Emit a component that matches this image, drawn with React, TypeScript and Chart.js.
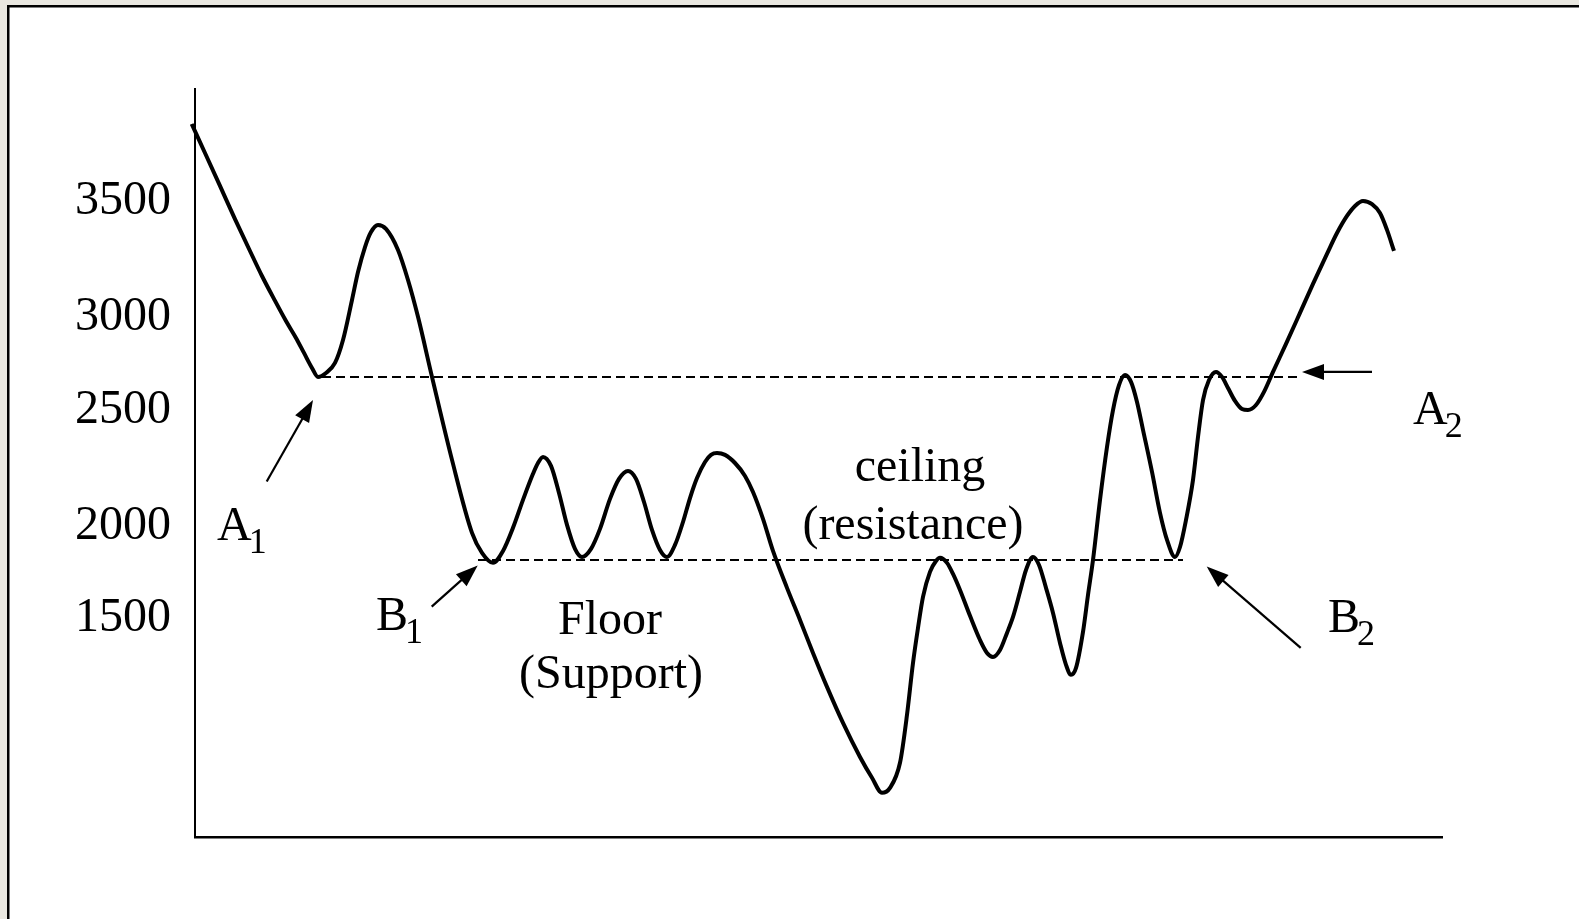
import { useEffect, useRef } from 'react';
import { Chart, registerables } from 'chart.js';

Chart.register(...registerables);

// ---- price path (time units, price units) ----
const timeValues = [
  -0.33, 1.0, 2.5, 4.0, 5.5, 6.7, 7.9, 9.1, 10.1, 10.9, 11.7, 12.3,
  13.1, 14.0, 14.8, 15.7, 16.3, 17.0, 17.6, 18.3,
  19.1, 20.3, 21.3, 22.3, 23.7, 25.7, 27.7, 28.7, 29.8,
  30.8, 31.8, 32.8, 33.8, 34.3, 34.8,
  35.6, 36.4, 37.2, 38.0, 38.7,
  39.6, 40.5, 41.5, 42.4, 43.3,
  44.1, 44.9, 45.7, 46.5, 47.2,
  48.0, 48.8, 49.5, 50.2, 51.0, 51.6, 52.2,
  53.0, 54.0, 55.0, 55.8, 56.8, 57.8, 59.2, 60.5, 61.8, 63.2, 64.8, 66.5, 67.7, 68.7,
  69.5, 70.5, 71.2, 71.8, 72.3, 72.8, 73.5, 74.1, 74.5,
  75.2, 75.8, 76.5, 77.5, 78.5, 79.2, 79.8,
  80.5, 81.2, 81.8, 82.5, 83.1, 83.8,
  84.4, 85.1, 85.8, 86.5, 87.1, 87.6,
  88.1, 88.8, 89.3, 89.8, 90.5, 91.2, 91.8, 92.4, 93.0,
  93.6, 94.2, 94.8, 95.7, 96.5, 97.2, 98.0,
  98.5, 99.1, 99.8, 100.3, 100.8, 101.4, 102.1,
  102.7, 103.3, 104.0, 104.7, 105.3,
  106.1, 106.9, 107.8, 109.1, 110.5, 111.8, 113.2, 114.2, 115.2, 116.0, 116.8,
  117.7, 118.5, 119.2, 119.9,
];
const priceValues = [
  3855, 3716, 3558, 3399, 3246, 3126, 3016, 2910, 2829, 2757, 2685, 2642,
  2661, 2709, 2819, 3011, 3145, 3265, 3337, 3371,
  3352, 3251, 3107, 2930, 2642, 2244, 1894, 1798, 1750,
  1807, 1918, 2052, 2177, 2229, 2258,
  2215, 2085, 1932, 1817, 1778,
  1817, 1913, 2057, 2153, 2191,
  2153, 2042, 1908, 1812, 1778,
  1836, 1946, 2061, 2157, 2234, 2268, 2277,
  2268, 2229, 2167, 2090, 1961, 1807, 1630, 1476, 1318, 1155, 982, 819, 719, 647,
  671, 791, 1021, 1270, 1438, 1587, 1707, 1759, 1774,
  1750, 1697, 1620, 1496, 1380, 1318, 1299,
  1332, 1414, 1491, 1611, 1716, 1778,
  1740, 1630, 1510, 1366, 1261, 1213,
  1246, 1419, 1596, 1764, 2052, 2306, 2483, 2603, 2651,
  2618, 2522, 2388, 2186, 1990, 1860, 1778,
  1826, 1956, 2148, 2354, 2531, 2627, 2666,
  2642, 2589, 2527, 2488, 2483,
  2507, 2570, 2666, 2800, 2949, 3088, 3232, 3332, 3414, 3462, 3486,
  3471, 3428, 3347, 3246,
];

// ---- support / resistance levels ----
const levelAX = [12.7, 110.5];
const levelAPrice = 2642;
const levelBX = [28.3, 98.8];
const levelBPrice = 1764;

// ---- axis ----
const xMin = 0;
const xMax = 124.7;
const yMin = 435;
const yMax = 4023;
const yTickValues = [3500, 2940, 2495, 1940, 1500];
const yTickLabels = ['3500', '3000', '2500', '2000', '1500'];

// ---- text labels (data units) ----
const labelTexts = ['A', 'B', 'A', 'B', 'Floor', '(Support)', 'ceiling', '(resistance)'];
const labelSubs = ['1', '1', '2', '2', '', '', '', ''];
const labelX = [2.2, 18.1, 121.8, 113.3, 41.5, 41.6, 72.5, 71.8];
const labelY = [1860, 1428, 2416, 1419, 1409, 1150, 2143, 1865];
const labelAlign = ['left', 'left', 'left', 'left', 'center', 'center', 'center', 'center'];

// ---- arrows (tail -> tip, data units) ----
const arrowFromX = [7.17, 23.67, 110.57, 117.7];
const arrowFromY = [2140, 1540, 1342, 2666];
const arrowToX = [11.8, 28.27, 101.17, 110.7];
const arrowToY = [2531, 1737, 1732, 2666];

const SERIF = '"Liberation Serif", "Times New Roman", serif';

function drawArrow(ctx: CanvasRenderingContext2D, x1: number, y1: number, x2: number, y2: number) {
  const ang = Math.atan2(y2 - y1, x2 - x1);
  const len = 22;
  const half = 8;
  const bx = x2 - len * Math.cos(ang);
  const by = y2 - len * Math.sin(ang);
  ctx.lineWidth = 2.2;
  ctx.beginPath();
  ctx.moveTo(x1, y1);
  ctx.lineTo(bx + 2 * Math.cos(ang), by + 2 * Math.sin(ang));
  ctx.stroke();
  ctx.beginPath();
  ctx.moveTo(x2, y2);
  ctx.lineTo(bx + half * Math.sin(ang), by - half * Math.cos(ang));
  ctx.lineTo(bx - half * Math.sin(ang), by + half * Math.cos(ang));
  ctx.closePath();
  ctx.fill();
}

const decorPlugin = {
  id: 'decor',
  beforeDraw(chart: any) {
    const { ctx, width, height } = chart;
    ctx.save();
    ctx.fillStyle = '#e9e7e0';
    ctx.fillRect(0, 0, width, height);
    ctx.fillStyle = '#ffffff';
    ctx.fillRect(8, 6, width - 8, height - 6);
    ctx.strokeStyle = '#000000';
    ctx.lineWidth = 2.5;
    ctx.beginPath();
    ctx.moveTo(8.25, height);
    ctx.lineTo(8.25, 6.25);
    ctx.lineTo(width, 6.25);
    ctx.stroke();
    ctx.restore();
  },
  afterDatasetsDraw(chart: any) {
    const { ctx } = chart;
    const xs = chart.scales.x;
    const ys = chart.scales.y;
    ctx.save();
    ctx.strokeStyle = '#000000';
    ctx.fillStyle = '#000000';
    for (let i = 0; i < arrowFromX.length; i++) {
      drawArrow(
        ctx,
        xs.getPixelForValue(arrowFromX[i]),
        ys.getPixelForValue(arrowFromY[i]),
        xs.getPixelForValue(arrowToX[i]),
        ys.getPixelForValue(arrowToY[i])
      );
    }
    ctx.textBaseline = 'alphabetic';
    for (let i = 0; i < labelTexts.length; i++) {
      const px = xs.getPixelForValue(labelX[i]);
      const py = ys.getPixelForValue(labelY[i]);
      ctx.font = `48px ${SERIF}`;
      ctx.textAlign = labelAlign[i] as CanvasTextAlign;
      ctx.fillText(labelTexts[i], px, py);
      if (labelSubs[i]) {
        const w = ctx.measureText(labelTexts[i]).width;
        ctx.font = `36px ${SERIF}`;
        ctx.textAlign = 'left';
        ctx.fillText(labelSubs[i], px + w - 3, py + 13);
      }
    }
    ctx.restore();
  },
};

export default function App() {
  const ref = useRef<HTMLCanvasElement | null>(null);

  useEffect(() => {
    if (!ref.current) return;
    const chart = new Chart(ref.current, {
      type: 'line',
      data: {
        datasets: [
          {
            data: timeValues.map((t, i) => ({ x: t, y: priceValues[i] })),
            borderColor: '#000000',
            borderWidth: 4,
            pointRadius: 0,
            cubicInterpolationMode: 'monotone',
            borderJoinStyle: 'round',
            fill: false,
            clip: false as any,
          },
          {
            data: levelAX.map((t) => ({ x: t, y: levelAPrice })),
            borderColor: '#000000',
            borderWidth: 2,
            borderDash: [9, 5],
            pointRadius: 0,
            fill: false,
          },
          {
            data: levelBX.map((t) => ({ x: t, y: levelBPrice })),
            borderColor: '#000000',
            borderWidth: 2,
            borderDash: [9, 5],
            pointRadius: 0,
            fill: false,
          },
        ],
      },
      options: {
        responsive: false,
        animation: false,
        devicePixelRatio: 1,
        layout: { padding: { left: 0, top: 89, right: 137, bottom: 82 } },
        plugins: { legend: { display: false }, tooltip: { enabled: false } },
        events: [],
        scales: {
          x: {
            type: 'linear',
            min: xMin,
            max: xMax,
            grid: { display: false, drawTicks: false },
            border: { display: true, color: '#000000', width: 2.5 },
            ticks: { display: false },
            afterFit: (s: any) => {
              s.height = 0;
            },
          },
          y: {
            type: 'linear',
            min: yMin,
            max: yMax,
            grid: { display: false, drawTicks: false },
            border: { display: true, color: '#000000', width: 2 },
            afterBuildTicks: (s: any) => {
              s.ticks = yTickValues.map((v) => ({ value: v }));
            },
            ticks: {
              autoSkip: false,
              padding: 24,
              labelOffset: 3,
              color: '#000000',
              font: { family: SERIF, size: 48 },
              callback: (_v: any, i: number) => yTickLabels[i],
            },
            afterFit: (s: any) => {
              s.width = 195;
            },
          },
        },
      },
      plugins: [decorPlugin],
    } as any);
    return () => chart.destroy();
  }, []);

  return (
    <div style={{ position: 'fixed', left: 0, top: 0, width: 1579, height: 919 }}>
      <canvas ref={ref} width={1579} height={919} style={{ display: 'block' }} />
    </div>
  );
}
